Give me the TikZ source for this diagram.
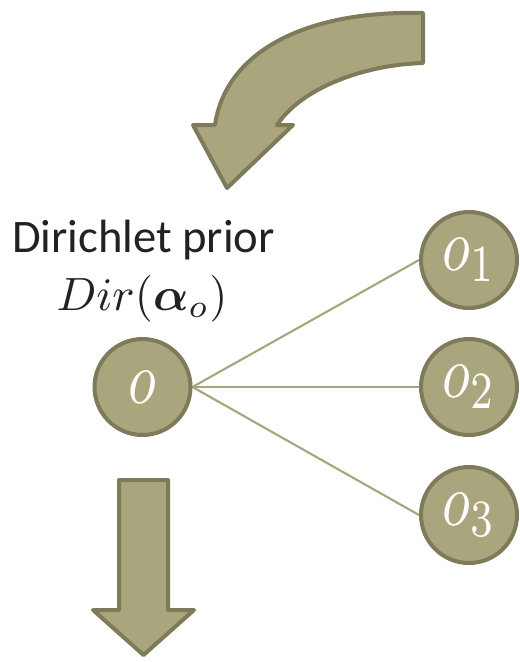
\documentclass[tikz,border=0pt]{standalone}
\usepackage{amsmath,bm}
\usepackage{fontspec}
\setmainfont{Carlito}
\usetikzlibrary{backgrounds}
\definecolor{olfill}{HTML}{A9A57C}
\definecolor{oldraw}{HTML}{7E7A5A}
\definecolor{olline}{HTML}{A9A57C}
\definecolor{txt}{HTML}{222222}
\tikzset{
  varnode/.style={circle, fill=olfill, draw=oldraw, line width=3pt, minimum size=72pt, inner sep=0pt, text=white},
  bigarrow/.style={fill=olfill, draw=oldraw, line width=3pt, line join=round},
  link/.style={draw=olline, line width=1.6pt},
  lbl/.style={text=txt, inner sep=0pt, anchor=base}
}
\newcommand{\circtext}[1]{\scalebox{4.3}[5.6]{$#1$}}
\begin{document}
\begin{tikzpicture}[x=0.75pt,y=-0.75pt]
\useasboundingbox (0,0) rectangle (520,662);
% curved arrow
\draw[bigarrow] (423,13) .. controls (300,10) and (225,55) .. (215,125) -- (193,125) -- (227,188) -- (293,125) -- (277,125) .. controls (300,90) and (360,65) .. (423,63) -- cycle;
% labels
\node[lbl] (dlab) at (143.5,252) {\fontsize{35}{40}\selectfont Dirichlet prior};
\node[lbl] (dmath) at (142,310) {\scalebox{3.5}{$Dir(\bm{\alpha}_o)$}};
% nodes
\node[varnode] (o) at (142.5,387) {\circtext{o}};
\node[varnode] (o1) at (469,260) {\circtext{o_1}};
\node[varnode] (o2) at (469,387) {\circtext{o_2}};
\node[varnode] (o3) at (469,515) {\circtext{o_3}};
\begin{scope}[on background layer]
\draw[link] (o.east) -- (o1.west);
\draw[link] (o.east) -- (o2.west);
\draw[link] (o.east) -- (o3.west);
\end{scope}
% down arrow
\draw[bigarrow] (119,480) -- (168,480) -- (168,610) -- (194,610) -- (143.5,655) -- (93,610) -- (119,610) -- cycle;
\end{tikzpicture}
\end{document}
